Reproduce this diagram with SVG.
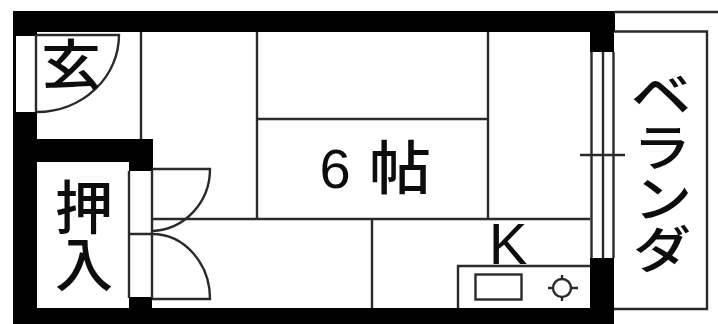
<svg xmlns="http://www.w3.org/2000/svg" width="718" height="324" viewBox="0 0 718 324">
<style>
.w{fill:#000}
.l{fill:none;stroke:#2a2a2a;stroke-width:2.4}
.t{font-family:"Noto Sans CJK JP","Noto Sans",sans-serif;fill:#111;text-anchor:middle;font-weight:500}
.a{font-family:"Liberation Sans",sans-serif;fill:#111;text-anchor:middle}
</style>
<defs><filter id="b" x="0" y="0" width="100%" height="100%"><feGaussianBlur stdDeviation="0.45"/></filter></defs>
<g filter="url(#b)">
<rect width="718" height="324" fill="#fff"/>
<g id="walls">
<rect class="w" x="13" y="11" width="602" height="21"/>
<rect class="w" x="13" y="11" width="3" height="313"/>
<rect class="w" x="13" y="32" width="24" height="4"/>
<rect class="w" x="13" y="112" width="24" height="212"/>
<rect class="w" x="13" y="139" width="140" height="23"/>
<rect class="w" x="129" y="139" width="24" height="32"/>
<rect class="w" x="129" y="297" width="23" height="12"/>
<rect class="w" x="13" y="308" width="601" height="16"/>
<rect class="w" x="590" y="32" width="24" height="20"/>
<rect class="w" x="590" y="258" width="24" height="50"/>
</g>
<g id="entrance">
<path class="l" d="M36 35V112"/>
<path class="l" d="M37 35H119A82 77 0 0 1 37 112"/>
<text class="t" x="71" y="87" font-size="60" transform="translate(71 64) scale(1 .9) translate(-71 -64)">玄</text>
</g>
<g id="closet">
<path class="l" d="M129 171V298M152 171V298M130 234H152"/>
<path class="l" d="M152 169H210A60 62 0 0 1 152 231"/>
<path class="l" d="M152 299H210A58 65 0 0 0 152 234"/>
<text class="t" x="84" y="229" font-size="58">押</text>
<text class="t" x="84" y="286" font-size="58">入</text>
</g>
<g id="rooms">
<path class="l" d="M141 32V139M257 32V219M488 32V219M257 119H488M152 219H590M372 219V308"/>
<text class="a" x="335" y="188" font-size="56">6</text>
<text class="t" x="400" y="189" font-size="58" textLength="62" lengthAdjust="spacingAndGlyphs">帖</text>
</g>
<g id="kitchen">
<text class="a" x="508" y="264" font-size="58">K</text>
<path class="l" d="M458 308V266H590"/>
<rect class="l" x="475.500" y="274.500" width="46" height="25"/>
<circle class="l" cx="562" cy="288" r="9"/>
<path class="l" d="M562 275V279M562 297V301M548 288H553M571 288H578"/>
</g>
<g id="veranda">
<path class="l" d="M591.500 52V258M603 52V258M613.500 52V258M580 155H625"/>
<path class="l" d="M614 12H718M614 31.500H707V309H614"/>
<text class="t" x="661" y="113" font-size="50" textLength="60" lengthAdjust="spacingAndGlyphs">ベ</text>
<text class="t" x="662" y="166" font-size="50" textLength="58" lengthAdjust="spacingAndGlyphs">ラ</text>
<text class="t" x="663" y="217" font-size="50" textLength="58" lengthAdjust="spacingAndGlyphs">ン</text>
<text class="t" x="662" y="268" font-size="50" textLength="58" lengthAdjust="spacingAndGlyphs">ダ</text>
</g>
</g>
</svg>
